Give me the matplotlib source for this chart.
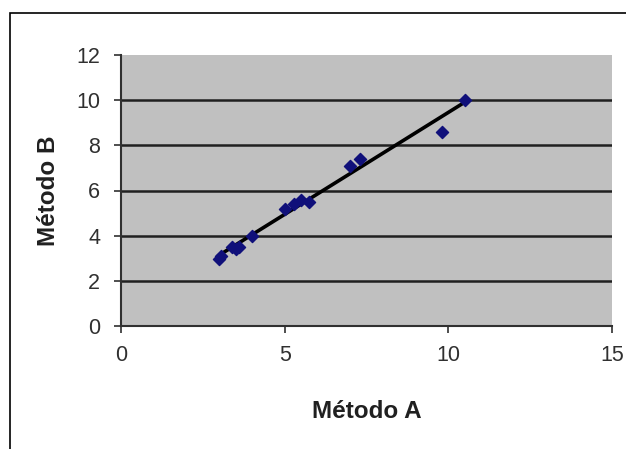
import numpy as np
import matplotlib
matplotlib.use("Agg")
import matplotlib.pyplot as plt
from matplotlib.patches import Rectangle

metodo_a = [3.0, 3.05, 3.4, 3.5, 3.6, 4.0, 5.0, 5.3, 5.5, 5.75, 7.0, 7.3, 9.8, 10.5]
metodo_b = [2.95, 3.1, 3.5, 3.4, 3.5, 4.0, 5.2, 5.4, 5.6, 5.5, 7.1, 7.4, 8.6, 10.0]
x_ticks = [0, 5, 10, 15]
y_ticks = [0, 2, 4, 6, 8, 10, 12]

plt.rcParams['font.family'] = ['Liberation Sans', 'DejaVu Sans']

fig = plt.figure(figsize=(6.26, 4.49), dpi=100)
fig.patch.set_facecolor('white')
ax = fig.add_axes([121/626, 1 - 326/449, (612 - 121)/626, (326 - 55)/449])
ax.set_facecolor('#c0c0c0')

# outer chart border
fig.patches.append(Rectangle((10/626, -0.1), 1.2, 1 - 13/449 + 0.1,
                             transform=fig.transFigure, fill=False,
                             edgecolor='black', linewidth=1.2))

for y in y_ticks[1:-1]:
    ax.axhline(y, color='#202020', linewidth=1.8, zorder=1)

# linear trend line
coef = np.polyfit(metodo_a, metodo_b, 1)
xs = np.array([min(metodo_a), max(metodo_a)])
ax.plot(xs, np.polyval(coef, xs), color='black', linewidth=2.6, zorder=2)

ax.scatter(metodo_a, metodo_b, marker='D', s=38, color='#10107a', zorder=3)

ax.set_xlim(0, 15)
ax.set_ylim(0, 12)
ax.set_xticks(x_ticks)
ax.set_yticks(y_ticks)
ax.tick_params(axis='both', labelsize=15.5, length=5, width=1.2, color='#303030', labelcolor='#303030')
ax.tick_params(axis='x', pad=9)
ax.tick_params(axis='y', pad=10)
for s in ['top', 'right']:
    ax.spines[s].set_visible(False)
for s in ['left', 'bottom']:
    ax.spines[s].set_color('#303030')
    ax.spines[s].set_linewidth(1.5)

ax.set_xlabel('Método A', fontsize=17.5, fontweight='bold', labelpad=24, color='#202020')
ax.set_ylabel('Método B', fontsize=17.5, fontweight='bold', labelpad=12, color='#202020')

fig.savefig('out.png', dpi=100)
